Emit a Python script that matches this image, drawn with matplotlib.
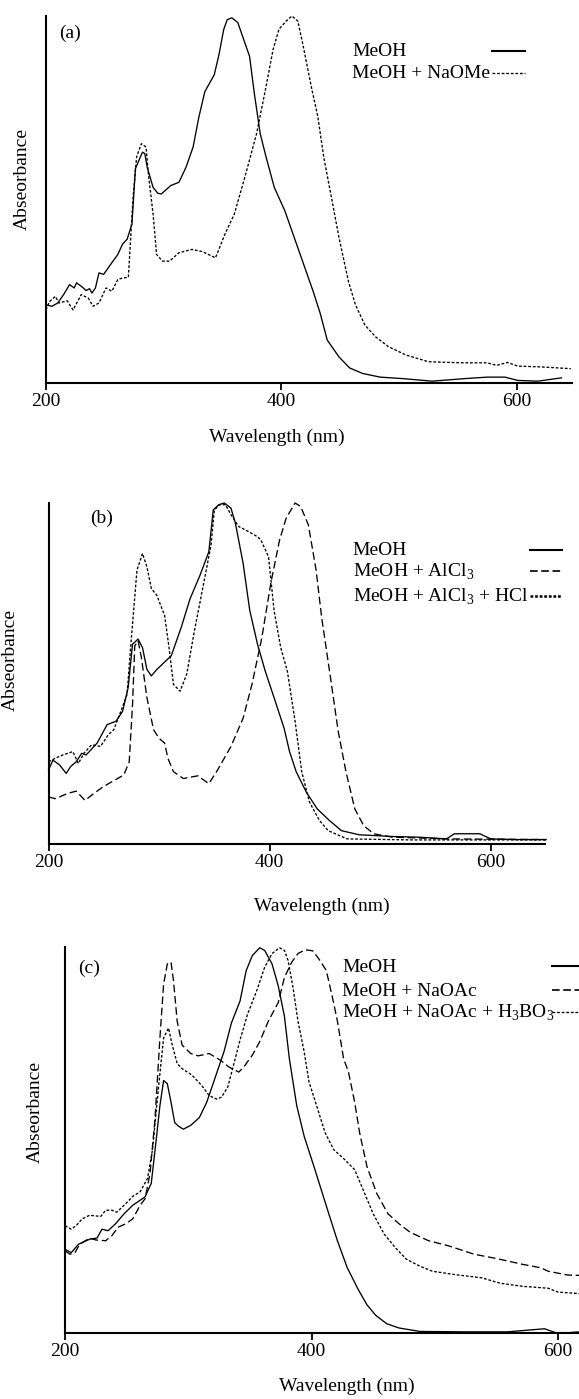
import matplotlib
matplotlib.use("Agg")
import matplotlib.pyplot as plt
from matplotlib.lines import Line2D

plt.rcParams['font.family'] = ['Liberation Serif', 'DejaVu Serif']
plt.rcParams['mathtext.fontset'] = 'custom'
plt.rcParams['mathtext.rm'] = 'Liberation Serif'
plt.rcParams['lines.scale_dashes'] = False

# ---------------- data: panel (a) ----------------
a_meoh_wl = [200, 205, 210, 215, 220, 224, 226, 231, 234, 237, 239, 242, 245, 249, 256, 261, 265, 269, 273,
             276, 279, 282, 284, 286, 291, 295, 298, 306, 313, 319, 325, 330, 335, 343, 347, 351, 354, 358,
             363, 368, 373, 377, 382, 387, 394, 403, 411, 419, 427, 433, 439, 449, 458, 469, 484, 503, 528,
             556, 575, 590, 601, 618, 638]
a_meoh_abs = [0.213, 0.209, 0.218, 0.241, 0.268, 0.259, 0.273, 0.261, 0.252, 0.257, 0.245, 0.259, 0.300, 0.296,
              0.328, 0.350, 0.378, 0.392, 0.433, 0.584, 0.607, 0.629, 0.625, 0.588, 0.533, 0.517, 0.515, 0.538,
              0.547, 0.588, 0.643, 0.726, 0.794, 0.840, 0.895, 0.963, 0.990, 0.995, 0.982, 0.936, 0.890, 0.790,
              0.680, 0.616, 0.533, 0.469, 0.396, 0.323, 0.250, 0.190, 0.117, 0.071, 0.041, 0.026, 0.016, 0.012,
              0.005, 0.012, 0.016, 0.016, 0.007, 0.005, 0.014]
a_naome_wl = [200, 203, 208, 211, 218, 223, 230, 236, 240, 245, 251, 256, 261, 265, 270, 274, 277, 281, 285,
              287, 291, 294, 299, 305, 313, 324, 333, 344, 352, 360, 369, 379, 387, 393, 398, 404, 409, 414,
              418, 426, 431, 436, 442, 449, 457, 463, 471, 480, 491, 506, 525, 553, 575, 583, 592, 601, 620, 646]
a_naome_abs = [0.199, 0.222, 0.236, 0.218, 0.224, 0.199, 0.241, 0.231, 0.209, 0.218, 0.259, 0.250, 0.282, 0.286,
               0.288, 0.506, 0.616, 0.652, 0.643, 0.570, 0.460, 0.350, 0.332, 0.332, 0.355, 0.364, 0.358, 0.341,
               0.405, 0.460, 0.561, 0.680, 0.808, 0.909, 0.964, 0.986, 1.0, 0.986, 0.927, 0.799, 0.726, 0.616,
               0.515, 0.396, 0.277, 0.213, 0.158, 0.126, 0.099, 0.076, 0.058, 0.055, 0.055, 0.048, 0.056, 0.046,
               0.044, 0.039]

# ---------------- data: panel (b) ----------------
b_meoh_wl = [200, 204, 210, 216, 220, 225, 230, 234, 244, 253, 261, 267, 272, 276, 281, 285, 289, 293, 298,
             311, 320, 328, 337, 345, 349, 354, 359, 365, 369, 376, 382, 389, 396, 404, 413, 418, 424, 433,
             443, 454, 465, 481, 511, 535, 560, 567, 590, 600, 623, 650]
b_meoh_abs = [0.217, 0.246, 0.232, 0.207, 0.227, 0.241, 0.266, 0.261, 0.296, 0.350, 0.360, 0.389, 0.458, 0.586,
              0.601, 0.576, 0.512, 0.493, 0.512, 0.552, 0.635, 0.719, 0.788, 0.857, 0.980, 0.995, 1.0, 0.985,
              0.941, 0.823, 0.685, 0.586, 0.507, 0.429, 0.340, 0.271, 0.212, 0.153, 0.103, 0.069, 0.039, 0.027,
              0.022, 0.020, 0.015, 0.030, 0.030, 0.015, 0.013, 0.013]
b_alcl3_wl = [200, 206, 210, 217, 225, 233, 241, 249, 257, 268, 273, 276, 278, 281, 284, 289, 295, 300, 305,
              308, 313, 322, 335, 345, 352, 365, 376, 384, 393, 401, 409, 415, 423, 428, 435, 442, 447, 455,
              462, 469, 477, 485, 494, 511, 561, 650]
b_alcl3_abs = [0.138, 0.133, 0.138, 0.148, 0.155, 0.128, 0.148, 0.167, 0.182, 0.202, 0.241, 0.409, 0.581, 0.596,
               0.547, 0.429, 0.335, 0.310, 0.296, 0.251, 0.212, 0.192, 0.200, 0.177, 0.212, 0.286, 0.369, 0.468,
               0.606, 0.764, 0.892, 0.956, 1.0, 0.990, 0.936, 0.803, 0.665, 0.488, 0.330, 0.212, 0.103, 0.054,
               0.030, 0.020, 0.015, 0.013]
b_hcl_wl = [200, 207, 213, 222, 227, 232, 239, 247, 254, 259, 266, 271, 275, 280, 285, 289, 293, 298, 305,
            309, 313, 319, 325, 332, 340, 347, 350, 355, 360, 365, 372, 381, 389, 392, 399, 404, 410, 416,
            423, 429, 436, 445, 453, 470, 528, 650]
b_hcl_abs = [0.241, 0.253, 0.261, 0.271, 0.236, 0.266, 0.291, 0.286, 0.320, 0.335, 0.394, 0.438, 0.606, 0.803,
             0.852, 0.813, 0.749, 0.729, 0.670, 0.576, 0.468, 0.448, 0.498, 0.626, 0.759, 0.877, 0.980, 0.995,
             0.995, 0.966, 0.931, 0.916, 0.901, 0.892, 0.842, 0.685, 0.576, 0.507, 0.360, 0.212, 0.123, 0.069,
             0.039, 0.015, 0.012, 0.012]

# ---------------- data: panel (c) ----------------
c_meoh_wl = [200, 205, 211, 220, 226, 230, 235, 241, 248, 255, 261, 265, 270, 274, 277, 280, 283, 286, 289,
             292, 296, 302, 309, 315, 321, 329, 335, 342, 347, 352, 358, 362, 368, 373, 378, 382, 388, 394,
             402, 408, 414, 421, 429, 438, 445, 452, 461, 471, 488, 523, 559, 589, 598, 609, 622]
c_meoh_abs = [0.217, 0.208, 0.230, 0.243, 0.246, 0.269, 0.265, 0.283, 0.309, 0.331, 0.344, 0.353, 0.388, 0.501,
              0.589, 0.654, 0.646, 0.598, 0.545, 0.536, 0.528, 0.538, 0.558, 0.598, 0.654, 0.729, 0.803, 0.860,
              0.939, 0.978, 0.998, 0.991, 0.956, 0.899, 0.821, 0.711, 0.589, 0.510, 0.431, 0.370, 0.309, 0.239,
              0.169, 0.112, 0.073, 0.046, 0.024, 0.013, 0.004, 0.003, 0.003, 0.011, 0.001, 0.001, 0.004]
c_naoac_wl = [200, 204, 208, 212, 220, 225, 233, 238, 243, 250, 255, 261, 265, 269, 273, 277, 280, 283, 286,
              288, 291, 295, 302, 308, 317, 326, 333, 341, 345, 352, 358, 365, 373, 378, 384, 389, 395, 401,
              406, 412, 417, 421, 426, 430, 435, 439, 445, 453, 462, 471, 480, 495, 511, 532, 550, 571, 586,
              592, 608, 622]
c_naoac_abs = [0.213, 0.204, 0.208, 0.230, 0.246, 0.241, 0.239, 0.252, 0.274, 0.284, 0.296, 0.331, 0.348, 0.414,
               0.554, 0.764, 0.904, 0.956, 0.961, 0.913, 0.808, 0.746, 0.724, 0.718, 0.724, 0.707, 0.689, 0.676,
               0.689, 0.720, 0.755, 0.808, 0.856, 0.921, 0.961, 0.983, 0.993, 0.990, 0.969, 0.939, 0.869, 0.808,
               0.711, 0.676, 0.598, 0.519, 0.431, 0.361, 0.309, 0.283, 0.261, 0.239, 0.226, 0.204, 0.193, 0.178,
               0.169, 0.160, 0.150, 0.149]
c_boric_wl = [200, 205, 209, 214, 220, 229, 233, 238, 242, 248, 255, 261, 267, 271, 276, 280, 284, 287, 291,
              295, 303, 311, 317, 323, 327, 332, 336, 342, 348, 356, 362, 368, 374, 378, 381, 385, 389, 394,
              398, 405, 411, 418, 427, 435, 442, 450, 459, 468, 477, 488, 498, 517, 538, 553, 571, 592, 600, 622]
c_boric_abs = [0.278, 0.269, 0.278, 0.296, 0.305, 0.302, 0.318, 0.318, 0.313, 0.331, 0.354, 0.366, 0.401, 0.475,
               0.641, 0.764, 0.790, 0.746, 0.698, 0.685, 0.668, 0.641, 0.615, 0.606, 0.611, 0.637, 0.685, 0.759,
               0.825, 0.891, 0.948, 0.983, 0.998, 0.991, 0.965, 0.895, 0.808, 0.729, 0.650, 0.580, 0.519, 0.475,
               0.449, 0.423, 0.370, 0.309, 0.256, 0.221, 0.191, 0.173, 0.160, 0.151, 0.143, 0.129, 0.121, 0.116,
               0.106, 0.101]

x_ticks = [200, 400, 600]
x_label = "Wavelength (nm)"
y_label = "Abseorbance"

# ---------------- layout helpers ----------------
W, H = 579, 1399
fig = plt.figure(figsize=(W / 100, H / 100), dpi=100)
FS = 14

def rect(l, r, t, b):
    return [l / W, 1 - b / H, (r - l) / W, (b - t) / H]

def fx(x):
    return x / W

def fy(y):
    return 1 - y / H

SOLID = dict(color='black', lw=0.95, linestyle='-')
DASH = dict(color='black', lw=0.95, dashes=(5.5, 2.6))
DOT = dict(color='black', lw=0.95, dashes=(2.0, 1.3))


def make_axes(l, r, t, b, xmax):
    ax = fig.add_axes(rect(l, r, t, b))
    ax.set_xlim(200, xmax)
    ax.set_ylim(0, 1.0)
    for s in ('top', 'right'):
        ax.spines[s].set_visible(False)
    for s in ('left', 'bottom'):
        ax.spines[s].set_linewidth(1.5)
    ax.set_yticks([])
    ax.set_xticks(x_ticks)
    ax.set_xticklabels([str(v) for v in x_ticks], fontsize=FS)
    ax.tick_params(axis='x', direction='out', length=5, width=1.3, pad=2)
    return ax


def legend(entries, tx, ty, lx0, lx1, styles, lws):
    for (lab, y, st, lw) in zip(entries, ty, styles, lws):
        fig.text(fx(tx), fy(y), lab, fontsize=FS, ha='left', va='center')
        kw = dict(st)
        kw['lw'] = lw
        fig.add_artist(Line2D([fx(lx0), fx(lx1)], [fy(y - 1), fy(y - 1)], transform=fig.transFigure, **kw))

# ---------------- panel (a) ----------------
axa = make_axes(46, 572, 16, 383, 647)
axa.plot(a_meoh_wl, a_meoh_abs, clip_on=False, **SOLID)
axa.plot(a_naome_wl, a_naome_abs, clip_on=False, **DOT)
fig.text(fx(70.5), fy(33), "(a)", fontsize=FS, ha='center', va='center')
fig.text(fx(277), fy(437), x_label, fontsize=FS, ha='center', va='center')
fig.text(fx(22), fy(179), y_label, fontsize=FS, ha='center', va='center', rotation=90)
legend(["MeOH", "MeOH + NaOMe"], 352, [52, 74], 492, 525, [SOLID, DOT], [1.5, 0.95])

# ---------------- panel (b) ----------------
axb = make_axes(48.5, 545, 503, 844, 649)
axb.plot(b_meoh_wl, b_meoh_abs, clip_on=False, **SOLID)
axb.plot(b_alcl3_wl, b_alcl3_abs, clip_on=False, **DASH)
axb.plot(b_hcl_wl, b_hcl_abs, clip_on=False, **DOT)
fig.text(fx(102), fy(518), "(b)", fontsize=FS, ha='center', va='center')
fig.text(fx(322), fy(906), x_label, fontsize=FS, ha='center', va='center')
fig.text(fx(10.5), fy(660), y_label, fontsize=FS, ha='center', va='center', rotation=90)
legend(["MeOH", r"MeOH + AlCl$_\mathregular{3}$", r"MeOH + AlCl$_\mathregular{3}$ + HCl"],
       352.6, [550.5, 572, 597], 530, 562, [SOLID, DASH, DOT], [1.5, 1.2, 1.8])

# ---------------- panel (c) ----------------
axc = make_axes(65, 579, 947, 1333, 617)
axc.plot(c_meoh_wl, c_meoh_abs, clip_on=False, **SOLID)
axc.plot(c_naoac_wl, c_naoac_abs, clip_on=False, **DASH)
axc.plot(c_boric_wl, c_boric_abs, clip_on=False, **DOT)
fig.text(fx(89), fy(968), "(c)", fontsize=FS, ha='center', va='center')
fig.text(fx(347), fy(1386), x_label, fontsize=FS, ha='center', va='center')
fig.text(fx(35), fy(1112), y_label, fontsize=FS, ha='center', va='center', rotation=90)
legend(["MeOH", "MeOH + NaOAc", r"MeOH + NaOAc + H$_\mathregular{3}$BO$_\mathregular{3}$"],
       342.5, [967, 991, 1013], 552, 579, [SOLID, DASH, DOT], [1.5, 1.2, 0.95])

fig.savefig("out.png", dpi=100)
